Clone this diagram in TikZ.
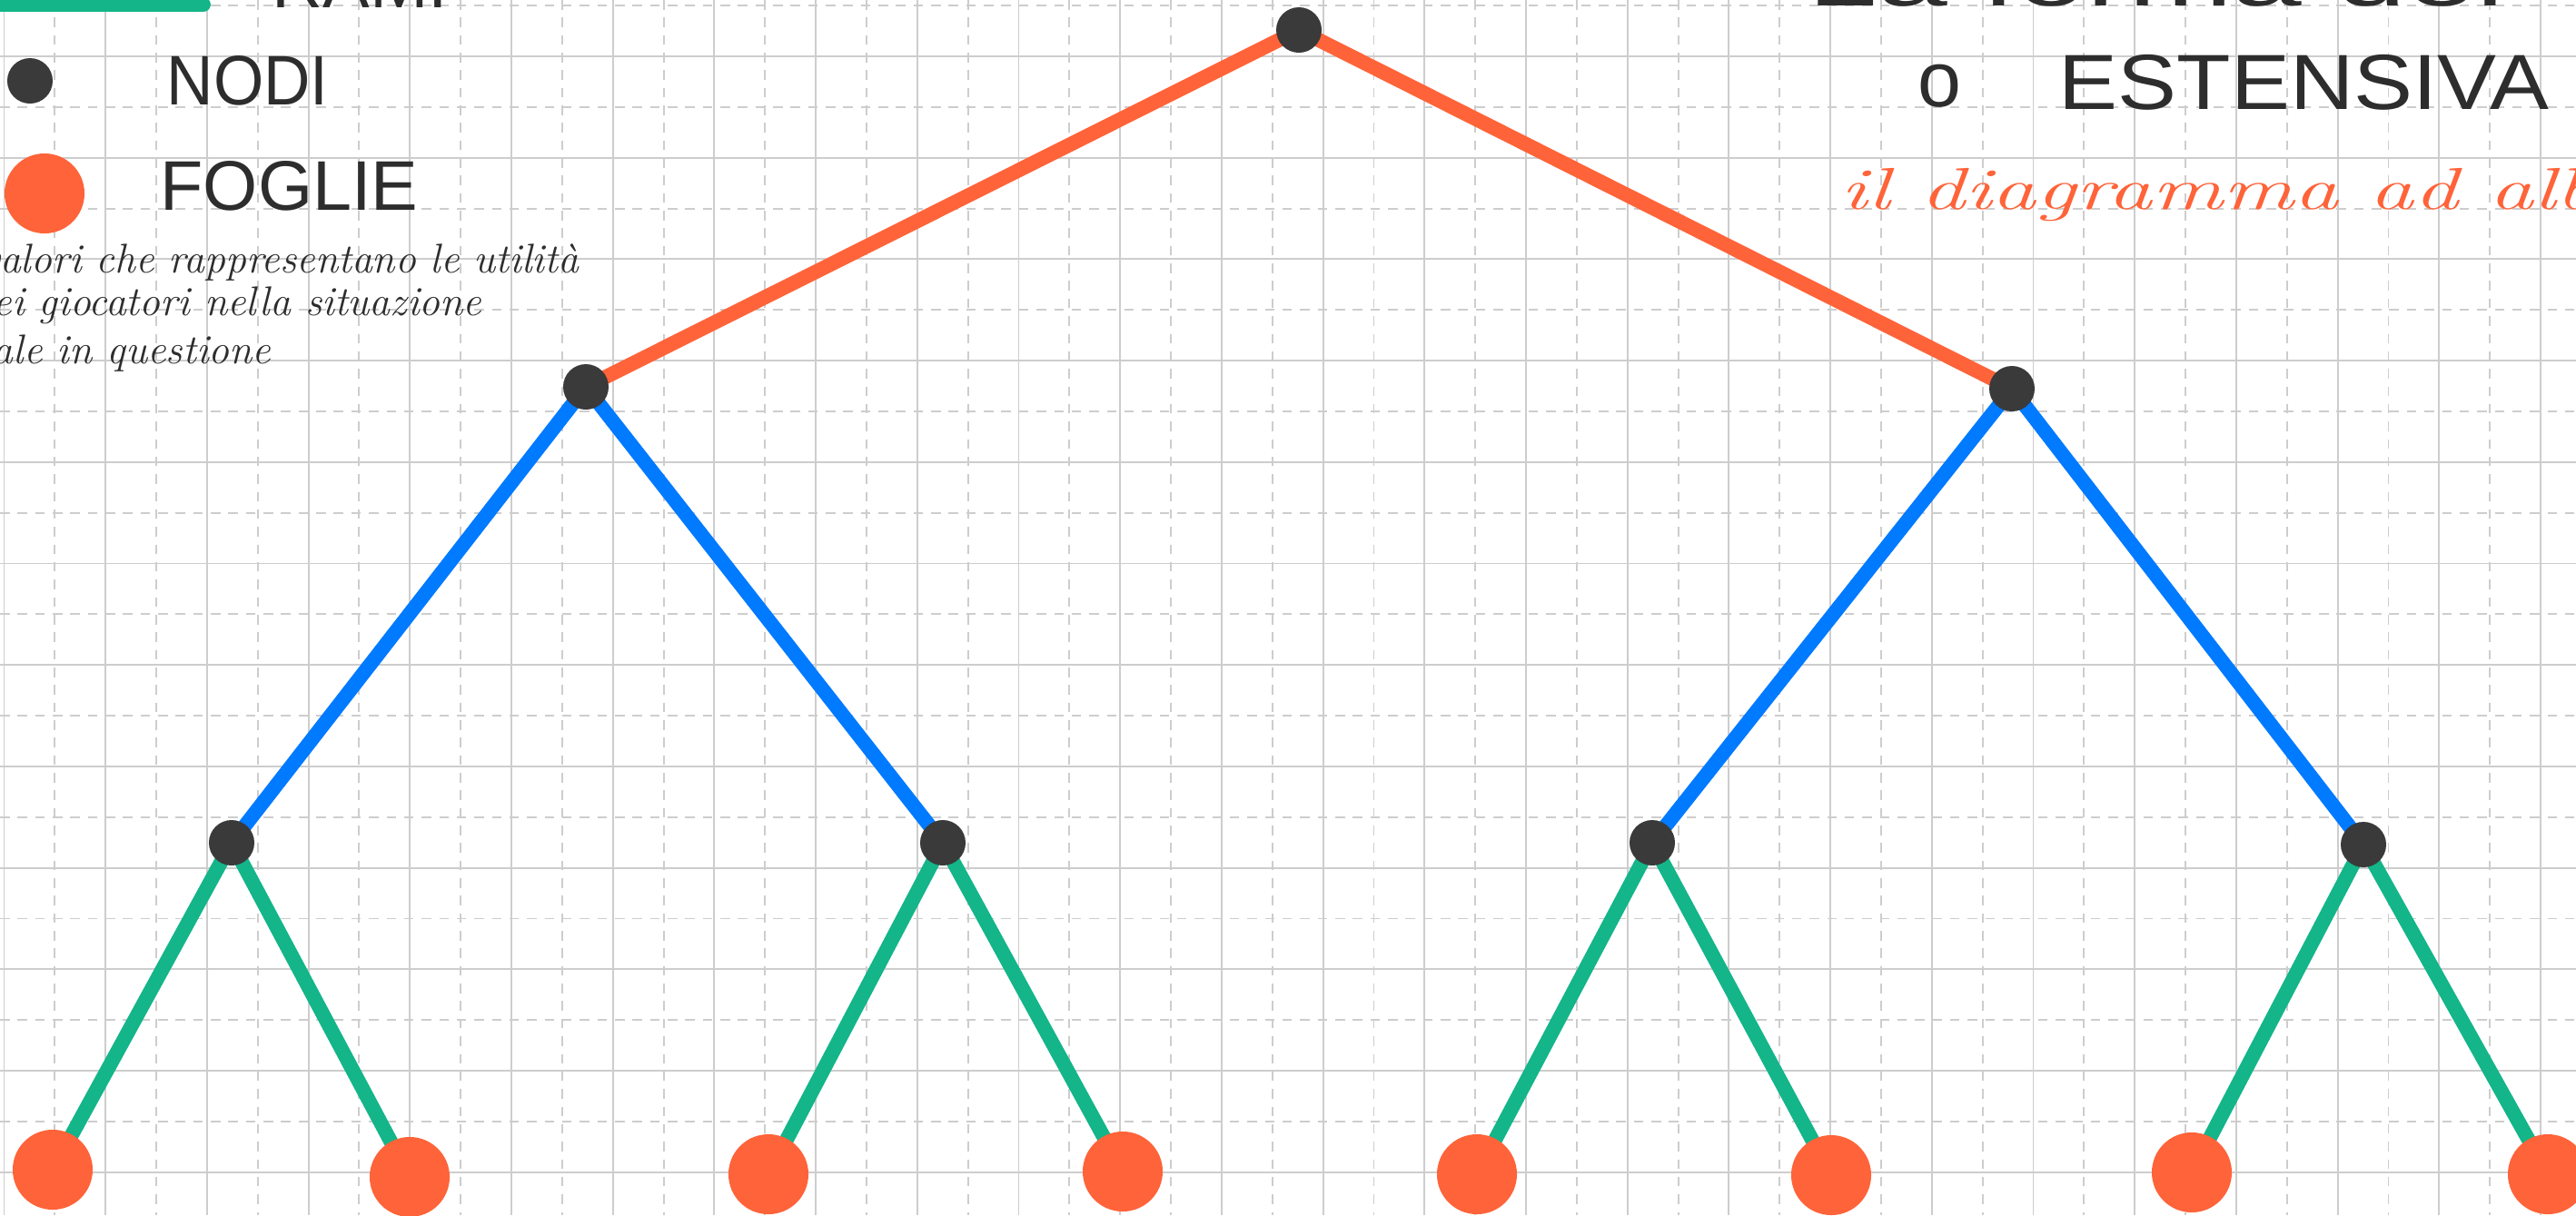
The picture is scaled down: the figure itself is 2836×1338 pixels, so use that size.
\documentclass[tikz,border=0pt]{standalone}
\usepackage{fontspec}
\usetikzlibrary{backgrounds}
\newfontfamily\handcaps{Liberation Sans}
\definecolor{gridc}{RGB}{205,205,205}
\definecolor{orng}{RGB}{255,99,57}
\definecolor{blu}{RGB}{0,122,255}
\definecolor{grn}{RGB}{19,181,137}
\definecolor{dk}{RGB}{58,58,58}
\definecolor{ink}{RGB}{45,45,45}
\begin{document}
\begin{tikzpicture}[x=0.01cm,y=-0.01cm,
  gsolid/.style={draw=gridc,line width=0.55pt},
  gdash/.style={draw=gridc,line width=0.55pt,dash pattern=on 3pt off 2.5pt},
  inner/.style={circle,fill=dk,minimum size=0.5cm,inner sep=0pt},
  leaf/.style={circle,fill=orng,minimum size=0.88cm,inner sep=0pt},
  edge/.style={line width=4.5pt},
  capslabel/.style={font=\handcaps\fontsize{22pt}{26pt}\selectfont,text=ink,inner sep=0pt},
  cursive/.style={font=\itshape\fontsize{13pt}{15pt}\selectfont,text=ink,inner sep=0pt}]
\useasboundingbox (0,0) rectangle (2836,1338);
\begin{scope}[on background layer]
  \fill[white] (0,0) rectangle (2836,1338);
  \foreach \k in {0,...,25} \draw[gsolid] ({4.5+111.7*\k},0) -- ({4.5+111.7*\k},1338);
  \foreach \k in {0,...,25} \draw[gdash] ({60.35+111.7*\k},0) -- ({60.35+111.7*\k},1338);
  \foreach \k in {0,...,11} \draw[gsolid] (0,{62+111.7*\k}) -- (2836,{62+111.7*\k});
  \foreach \k in {0,...,11} \draw[gdash] (0,{6.15+111.7*\k}) -- (2836,{6.15+111.7*\k});
\end{scope}

% tree nodes
\node[inner] (r) at (1430,33) {};
\node[inner] (a) at (645,426) {};
\node[inner] (b) at (2215,428) {};
\node[inner] (c) at (255,928) {};
\node[inner] (d) at (1038,928) {};
\node[inner] (e) at (1819,928) {};
\node[inner] (f) at (2602,930) {};
\node[leaf] (l1) at (58,1288) {};
\node[leaf] (l2) at (451,1296) {};
\node[leaf] (l3) at (846,1293) {};
\node[leaf] (l4) at (1236,1290) {};
\node[leaf] (l5) at (1626,1293) {};
\node[leaf] (l6) at (2016,1294) {};
\node[leaf] (l7) at (2413,1291) {};
\node[leaf] (l8) at (2805,1293) {};

\begin{scope}[on background layer]
  \draw[edge,orng] (r.center) -- (a.center);
  \draw[edge,orng] (r.center) -- (b.center);
  \draw[edge,blu] (a.center) -- (c.center);
  \draw[edge,blu] (a.center) -- (d.center);
  \draw[edge,blu] (b.center) -- (e.center);
  \draw[edge,blu] (b.center) -- (f.center);
  \draw[edge,grn] (c.center) -- (l1.center);
  \draw[edge,grn] (c.center) -- (l2.center);
  \draw[edge,grn] (d.center) -- (l3.center);
  \draw[edge,grn] (d.center) -- (l4.center);
  \draw[edge,grn] (e.center) -- (l5.center);
  \draw[edge,grn] (e.center) -- (l6.center);
  \draw[edge,grn] (f.center) -- (l7.center);
  \draw[edge,grn] (f.center) -- (l8.center);
\end{scope}

% legend
\coordinate (g1) at (-20,5);
\coordinate (g2) at (224,5);
\draw[edge,grn,line cap=round] (g1) -- (g2);
\node[capslabel,anchor=base west] (tr) at (299,8) {RAMI};
\node[inner] (legn) at (33,89) {};
\node[capslabel,anchor=base west] (tn) at (183,115) {\scalebox{0.92}[1]{NODI}};
\node[leaf] (legl) at (49,213) {};
\node[capslabel,anchor=base west] (tf) at (176,231) {FOGLIE};
\node[cursive,anchor=base east] (c1) at (638,300) {valori che rappresentano le utilità};
\node[cursive,anchor=base east] (c2) at (531,347) {dei giocatori nella situazione};
\node[cursive,anchor=base east] (c3) at (299,400) {finale in questione};

% title right
\node[capslabel,anchor=base west,font=\handcaps\fontsize{24.5pt}{28pt}\selectfont] (tt) at (1990,6) {\scalebox{1.6}[1]{La forma del}};
\node[capslabel,anchor=base west,font=\handcaps\fontsize{24.5pt}{28pt}\selectfont] (to) at (2111,117) {o};
\node[capslabel,anchor=base west,font=\handcaps\fontsize{24.5pt}{28pt}\selectfont] (te) at (2266,120) {\scalebox{1.13}[1]{ESTENSIVA}};
\node[cursive,anchor=base west,text=orng,font=\itshape\fontsize{18.5pt}{22pt}\selectfont] (td) at (2026,230) {\scalebox{1.5}[1]{il diagramma ad albero}};
\end{tikzpicture}
\end{document}
